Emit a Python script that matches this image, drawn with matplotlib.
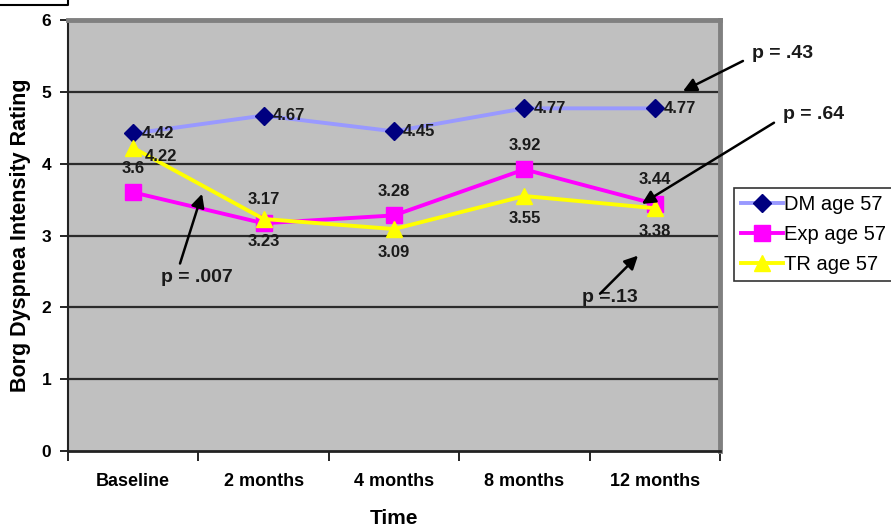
import numpy as np
import matplotlib
matplotlib.use('Agg')
import matplotlib.pyplot as plt
from matplotlib.lines import Line2D

plt.rcParams['font.family'] = ['Liberation Sans', 'DejaVu Sans']

# data
time_points = ['Baseline', '2 months', '4 months', '8 months', '12 months']
dm_age57 = [4.42, 4.67, 4.45, 4.77, 4.77]
exp_age57 = [3.6, 3.17, 3.28, 3.92, 3.44]
tr_age57 = [4.22, 3.23, 3.09, 3.55, 3.38]
y_ticks = [0, 1, 2, 3, 4, 5, 6]

W, H = 891, 529
fig = plt.figure(figsize=(W / 100, H / 100), dpi=100)
ax = fig.add_axes([68 / W, 1 - 451 / H, (720 - 68) / W, (451 - 20) / H])
ax.set_facecolor('#C0C0C0')

x = np.arange(len(time_points))
ax.set_xlim(-0.5, len(time_points) - 0.5)
ax.set_ylim(0, 6)

# grid lines
for yv in y_ticks[1:-1]:
    ax.axhline(yv, color='#2b2b2b', lw=1.6, zorder=1)

ax.plot(x, dm_age57, color='#9999FF', lw=2.8, marker='D', ms=9,
        mfc='#000080', mec='#000080', zorder=3, label='DM age 57')
ax.plot(x, exp_age57, color='#FF00FF', lw=2.8, marker='s', ms=11,
        mfc='#FF00FF', mec='#FF00FF', zorder=4, label='Exp age 57')
ax.plot(x, tr_age57, color='#FFFF00', lw=2.8, marker='^', ms=12,
        mfc='#FFFF00', mec='#FFFF00', zorder=5, label='TR age 57')

lab = dict(fontsize=12, fontweight='bold', color='#1a1a1a',
           textcoords='offset pixels', zorder=6)
for xi, v in zip(x, dm_age57):
    ax.annotate(f'{v:g}', (xi, v), xytext=(9, 0), ha='left', va='center', **lab)
for xi, v in zip(x, exp_age57):
    ax.annotate(f'{v:g}', (xi, v), xytext=(0, 24), ha='center', va='center', **lab)
for i, (xi, v) in enumerate(zip(x, tr_age57)):
    off = (12, -9) if i == 0 else (0, -23)
    ha = 'left' if i == 0 else 'center'
    ax.annotate(f'{v:g}', (xi, v), xytext=off, ha=ha, va='center', **lab)

# p-value callouts
arrow = dict(arrowstyle='-|>', color='black', lw=1.8, mutation_scale=20,
             shrinkA=0, shrinkB=0)
callouts = [
    ('p = .43', (4.98, 5.53), (4.676, 5.43), (4.216, 5.01)),
    ('p = .64', (5.22, 4.68), (4.914, 4.57), (3.90, 3.44)),
    ('p = .007', (0.489, 2.42), (0.359, 2.61), (0.528, 3.58)),
    ('p =.13', (3.656, 2.14), (3.58, 2.19), (3.871, 2.72)),
]
for txt, tpos, tail, head in callouts:
    ax.text(*tpos, txt, fontsize=14, fontweight='bold', color='#1a1a1a',
            ha='center', va='center', clip_on=False, zorder=7)
    ax.annotate('', xy=head, xytext=tail, arrowprops=arrow,
                annotation_clip=False, zorder=7)

# spines
for s in ['top', 'right']:
    ax.spines[s].set_color('#808080')
    ax.spines[s].set_linewidth(3.5)
ax.spines['left'].set_color('#222222')
ax.spines['left'].set_linewidth(1.5)
ax.spines['bottom'].set_color('#222222')
ax.spines['bottom'].set_linewidth(2)

ax.set_yticks(y_ticks)
ax.set_yticklabels([str(t) for t in y_ticks], fontsize=12.5, fontweight='bold')
ax.tick_params(axis='y', direction='out', length=6, width=1.2, pad=6)

ax.set_xticks(x)
ax.set_xticklabels(time_points, fontsize=13, fontweight='bold')
ax.set_xticks(np.arange(-0.5, len(time_points)), minor=True)
ax.tick_params(axis='x', which='major', length=0, pad=16)
ax.tick_params(axis='x', which='minor', direction='out', length=7, width=1.2)

ax.set_xlabel('Time', fontsize=15, fontweight='bold')
ax.xaxis.set_label_coords(0.5, -(519 - 451) / (451 - 20))
ax.xaxis.label.set_va('center')
ax.set_ylabel('Borg Dyspnea Intensity Rating', fontsize=15.5,
              fontweight='bold')
ax.yaxis.set_label_coords(-(68 - 21) / (720 - 68), 0.5)
ax.yaxis.label.set_va('center')

leg = fig.legend(loc='upper left', bbox_to_anchor=(734 / W, 1 - 188 / H),
                 fontsize=14.5, frameon=True, fancybox=False, borderaxespad=0,
                 handlelength=2.1, handletextpad=0.05, labelspacing=0.55,
                 borderpad=0.35)
leg.get_frame().set_edgecolor('black')
leg.get_frame().set_linewidth(1.2)

# partial box at the top-left corner
fig.add_artist(Line2D([0, 68 / W, 68 / W], [1 - 5 / H, 1 - 5 / H, 1],
                      transform=fig.transFigure, color='black', lw=1.5))

fig.savefig('out.png', dpi=100)
